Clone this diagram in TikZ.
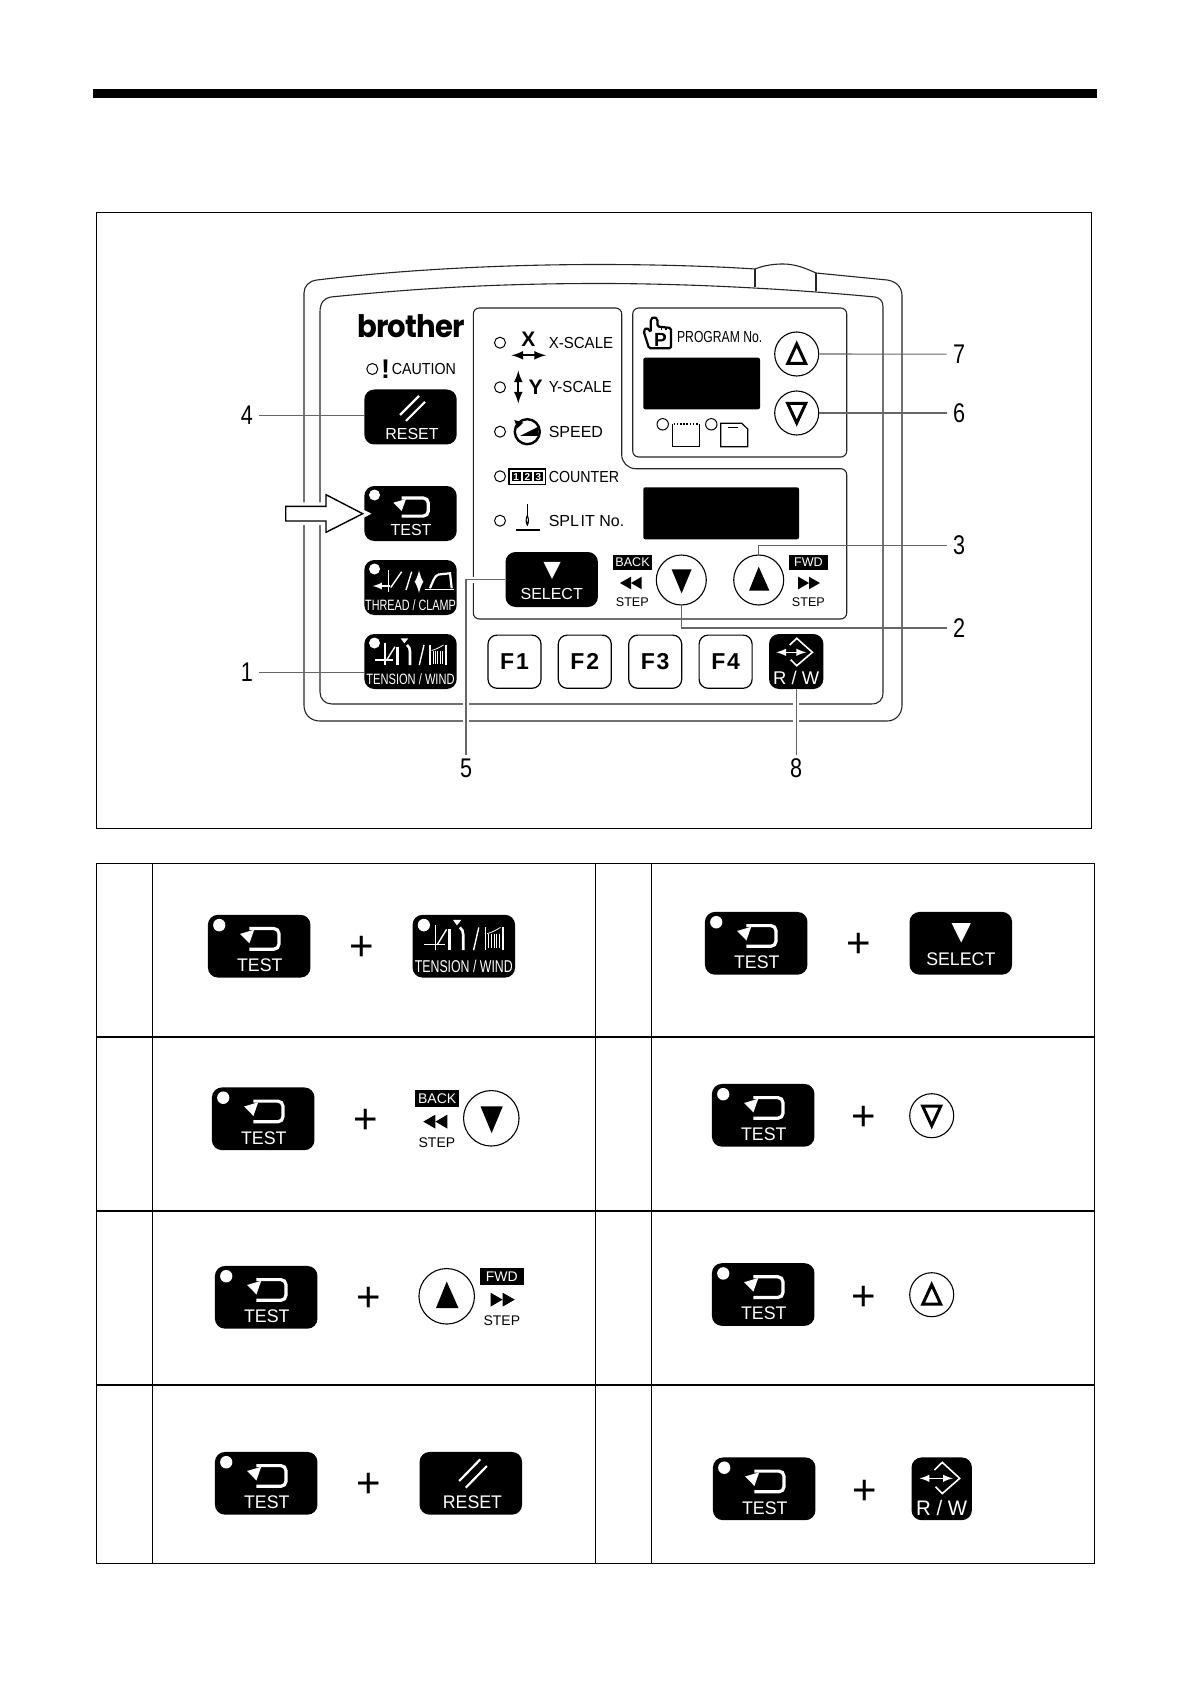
\documentclass[tikz,border=0pt]{standalone}
\usepackage{graphicx}
\usepackage{fontspec}
\setmainfont{Liberation Sans}
\newfontfamily\logofont{Poppins}[LetterSpace=-3]
\usepackage{tikz}
\usetikzlibrary{arrows}
\tikzset{>=latex}
\tikzset{
  caseline/.style={draw=black!85, line width=0.55pt},
  rule/.style={draw=black, line width=0.65pt},
  leader/.style={draw=black!60, line width=0.55pt},
  leaderhalo/.style={leader, preaction={draw=white, line width=3pt}},
  keybox/.style={fill=black, rounded corners=5pt, minimum width=46.2pt, minimum height=27.5pt, inner sep=0pt},
  rwbox/.style={keybox, minimum width=27.2pt},
  fkey/.style={draw=black, line width=0.6pt, fill=white, rounded corners=4.5pt, minimum width=26.5pt, minimum height=26.6pt, inner sep=0pt, font=\fontsize{11.5}{11.5}\selectfont\bfseries},
  keytext/.style={text=white, inner sep=0pt, font=\fontsize{8}{8}\selectfont},
  paneltext/.style={text=black, inner sep=0pt, anchor=west, font=\fontsize{8}{8}\selectfont},
  steptext/.style={inner sep=0pt, font=\fontsize{6.3}{6.3}\selectfont},
  stepbox/.style={fill=black, text=white, inner sep=0pt, minimum width=19.8pt, minimum height=7.7pt, font=\fontsize{6.3}{6.3}\selectfont},
  num/.style={inner xsep=3pt, inner ysep=1.8pt, font=\fontsize{13.5}{13.5}\selectfont},
  plussign/.style={inner sep=0pt, yshift=-1pt, font=\fontsize{21}{21}\selectfont},
  keycircle/.style={circle, draw=black, line width=0.55pt, fill=white, inner sep=0pt},
  led/.style={draw=black, line width=0.5pt, fill=white},
  white icon/.style={draw=white, line width=0.6pt},
  cntbox/.style={fill=black, text=white, minimum size=4.6pt, inner sep=0pt, font=\fontsize{5}{5}\selectfont\bfseries},
  panelkey/.style={scale=1},
  tablekey/.style={xscale=1.11, yscale=1.14},
  tableround/.style={scale=1.11},
}
\newcommand{\cond}[2]{\scalebox{#1}[1]{#2}}
\newcommand{\keyLed}{\fill[white] (-36,-18.5) circle (5.5);}
\newcommand{\keyReset}[4]{
  \begin{scope}[shift={(#2,#3)},#4,transform shape]
  \node[keybox] (#1) at (0,0) {};
  \draw[white icon, line width=1.1pt] (-10.5,-2) -- (8.5,-21);
  \draw[white icon, line width=1.1pt] (-4.5,3.8) -- (14.5,-15.2);
  \node[keytext] (#1txt) at (1.5,16.5) {RESET};
  \end{scope}
}
\newcommand{\keyTest}[4]{
  \begin{scope}[shift={(#2,#3)},#4,transform shape]
  \node[keybox] (#1) at (0,0) {};
  \keyLed
  \draw[white icon, line width=1.6pt, rounded corners=2.5pt] (-8.8,-15.5) -- (17.8,-15.5) -- (17.8,2.6) -- (-8.8,2.6);
  \fill[white] (-17.2,-10.8) -- (-4.5,-14.5) -- (-8.8,-2.5) -- cycle;
  \node[keytext] (#1txt) at (0.5,16.6) {TEST};
  \end{scope}
}
\newcommand{\keyTension}[4]{
  \begin{scope}[shift={(#2,#3)},#4,transform shape]
  \node[keybox] (#1) at (0,0) {};
  \keyLed
  \draw[white icon, line width=0.7pt] (-25.5,-18.2) -- (-25.5,3.5);
  \draw[white icon, line width=0.7pt] (-35.5,-1.5) -- (-17.2,-1.5);
  \draw[white icon, line width=0.7pt] (-23.8,-1.5) -- (-15.5,-14.8);
  \draw[white icon, line width=1.3pt] (-12.8,-14.8) -- (-12.8,3.5);
  \draw[white icon, line width=1.3pt] (-0.5,3.5) -- (-0.5,-10) .. controls (-0.5,-13) and (-1.5,-15) .. (-3.5,-16.5);
  \fill[white] (-9.8,-23.2) -- (-2.2,-23.2) -- (-6.2,-18.2) -- cycle;
  \draw[white icon, line width=0.7pt] (8.8,3.5) -- (13.5,-16.5);
  \draw[white icon, line width=0.8pt] (19.5,-16.5) -- (19.5,3.5);
  \draw[white icon, line width=0.8pt] (35.2,-16.5) -- (35.2,3.5);
  \foreach \hx in {22.4,24.8,27.2,29.6,32} {
    \draw[white icon, line width=0.4pt] (\hx,-11) -- (\hx,2);
  }
  \draw[white icon, line width=0.4pt] (21,-11) .. controls (25,-12) and (29,-14) .. (33,-16.5);
  \node[keytext] (#1txt) at (0,17.7) {\fontsize{7.5}{7.5}\selectfont\cond{0.74}{TENSION / WIND}};
  \end{scope}
}
\newcommand{\keySelect}[4]{
  \begin{scope}[shift={(#2,#3)},#4,transform shape]
  \node[keybox] (#1) at (0,0) {};
  \fill[white] (-8.3,-17.7) -- (9,-17.7) -- (0.3,-0.7) -- cycle;
  \node[keytext] (#1txt) at (0,14.3) {SELECT};
  \end{scope}
}
\newcommand{\keyRW}[4]{
  \begin{scope}[shift={(#2,#3)},#4,transform shape]
  \node[rwbox] (#1) at (0,0) {};
  \draw[white icon, line width=0.8pt] (-6.5,-16.5) -- (0.5,-23.2) -- (16.2,-9.2) -- (0.5,4.2) -- (-5.5,-1.8);
  \draw[white icon, line width=0.7pt, <->] (-20,-9.2) -- (10,-9.2);
  \node[keytext] (#1txt) at (0,16.8) {\fontsize{9.2}{9.2}\selectfont R / W};
  \end{scope}
}
\newcommand{\keyBack}[4]{
  \begin{scope}[shift={(#2,#3)},#4,transform shape]
  \node[keycircle, minimum size=25pt] (#1) at (0,0) {};
  \fill (-9.7,-10.7) -- (10.3,-10.7) -- (0.3,13.3) -- cycle;
  \node[stepbox] (#1box) at (-48.8,-17.7) {BACK};
  \fill (-61.3,3) -- (-50.3,-3.3) -- (-50.3,9.3) -- cycle;
  \fill (-50.3,3) -- (-39.6,-3.3) -- (-39.6,9.3) -- cycle;
  \node[steptext] (#1txt) at (-49,21.7) {STEP};
  \end{scope}
}
\newcommand{\keyFwd}[4]{
  \begin{scope}[shift={(#2,#3)},#4,transform shape]
  \node[keycircle, minimum size=25pt] (#1) at (0,0) {};
  \fill (-9.7,10.7) -- (10.7,10.7) -- (0,-13.3) -- cycle;
  \node[stepbox] (#1box) at (49.7,-17.7) {FWD};
  \fill (39.5,-3.3) -- (50.3,3) -- (39.5,9.3) -- cycle;
  \fill (50.3,-3.3) -- (61.3,3) -- (50.3,9.3) -- cycle;
  \node[steptext] (#1txt) at (49.7,21.7) {STEP};
  \end{scope}
}
% #4 is 1 for the up key, -1 for the down key
\newcommand{\keyOpen}[4]{
  \begin{scope}[shift={(#2,#3)}]
  \node[keycircle, minimum size=22pt] (#1) at (0,0) {};
  \draw[line width=1.5pt, miter limit=3] (-9,9.5*#4) -- (9,9.5*#4) -- (0,-10*#4) -- cycle;
  \end{scope}
}

\begin{document}
\begin{tikzpicture}[x=0.5pt,y=-0.5pt]
  \useasboundingbox (0,0) rectangle (1190,1684);
  \fill[white] (0,0) rectangle (1190,1684);
  \fill (93,89) rectangle (1096.6,97.7);
  \draw[rule] (96.5,212.3) rectangle (1091.2,828.5);

  % case of the panel
  \draw[caseline] (304,293) .. controls (304,286) and (309,281) .. (317,280) .. controls (400,270) and (500,264.5) .. (600,264.5) .. controls (650,264.5) and (710,266) .. (755,269) .. controls (765,265) and (775,264) .. (783,264) .. controls (795,264) and (805,268) .. (816,273) -- (887,280) .. controls (895,281) and (902,286) .. (902,296) -- (902,705) .. controls (902,715) and (895,721) .. (887,721) -- (320,721) .. controls (310,721) and (304,714) .. (304,705) -- cycle;
  \draw[caseline] (320,312) .. controls (320,303) and (324,298) .. (331,297) .. controls (420,288) and (500,283.5) .. (600,283.5) .. controls (680,283.5) and (780,288) .. (875,297) .. controls (880,298) and (883,301) .. (883,307) -- (883,692) .. controls (883,700) and (879,704) .. (871,704) -- (332,704) .. controls (325,704) and (320,699) .. (320,692) -- cycle;
  \draw[caseline] (755,269) -- (755,287);
  \draw[caseline] (816,273) -- (816,291);
  \draw[caseline, rounded corners=3pt] (473.3,619) -- (473.3,308) -- (621.7,308) -- (621.7,440) [rounded corners=7pt] -- (621.7,468.7) -- (700,468.7) [rounded corners=3pt] -- (846.7,468.7) -- (846.7,619) -- cycle;
  \draw[caseline, rounded corners=3pt] (632.7,308) rectangle (846.7,457);
  \fill[rounded corners=1pt] (643.3,357.7) rectangle (760,409.3);
  \fill[rounded corners=1pt] (643.3,487.3) rectangle (799,539.3);

  % left column
  \node[inner sep=0pt, font=\fontsize{15.5}{15.5}\logofont\bfseries] (logo) at (411,326) {\cond{0.94}{brother}};
  \draw[led] (372.3,369) circle (5.5);
  \node[inner sep=0pt, font=\fontsize{13.5}{13.5}\selectfont\bfseries] (bang) at (385.7,369) {!};
  \node[paneltext] (caution) at (391.5,369) {\cond{0.89}{CAUTION}};
  \keyReset{resetKey}{410.5}{417}{panelkey}
  \keyTest{testKey}{410.5}{513.5}{panelkey}
  \keyTension{tensionKey}{410.5}{661.5}{panelkey}
  \begin{scope}[shift={(410.5,587.5)}]
  \node[keybox] (threadKey) at (0,0) {};
  \keyLed
  \draw[white icon, line width=0.7pt] (-22.2,-17.5) -- (-22.2,4.2);
  \draw[white icon, line width=0.6pt, ->] (-20.5,-1.5) -- (-37.8,-1.5);
  \draw[white icon, line width=0.7pt] (-19.8,0) -- (-8.8,-15.8);
  \draw[white icon, line width=0.7pt] (-4.5,2.5) -- (1.2,-15.8);
  \draw[white icon, line width=1pt, <->] (8.5,-17) -- (8.5,5.5);
  \draw[white icon, line width=0.8pt] (14.5,1.8) -- (43.5,1.8);
  \draw[white icon, line width=1.1pt] (19.5,0.8) .. controls (22,-5) and (24,-12) .. (28,-13) -- (39.5,-14.2) -- (41.2,0.8);
  \node[keytext] (threadKeytxt) at (0,17.5) {\fontsize{7.5}{7.5}\selectfont\cond{0.72}{THREAD / CLAMP}};
  \end{scope}

  % arrow to the test key
  \draw[draw=black, line width=0.7pt, fill=white, preaction={draw=white, line width=4pt}] (285.7,506.3) -- (326,506.3) -- (326,494.7) -- (362.7,513.7) -- (326,532.3) -- (326,521) -- (285.7,521) -- cycle;

  % indicator column
  \draw[led] (500,342.7) circle (5.5);
  \draw[led] (500,387.3) circle (5.5);
  \draw[led] (500,431.7) circle (5.5);
  \draw[led] (500,476.3) circle (5.5);
  \draw[led] (500,520.7) circle (5.5);
  \node[inner sep=0pt, font=\fontsize{10.5}{10.5}\selectfont\bfseries] (xmark) at (528.3,339.3) {X};
  \draw[<->, line width=1pt] (511.5,355.3) -- (546,355.3);
  \draw[<->, line width=1pt] (518.3,370.5) -- (518.3,403.5);
  \node[inner sep=0pt, font=\fontsize{10.5}{10.5}\selectfont\bfseries] (ymark) at (535.7,387.7) {Y};
  \draw[line width=1.2pt] (527.3,431.7) circle (12.5);
  \fill (520,436) -- (538.3,426.7) -- (538.3,436) -- cycle;
  \fill (514.3,420) -- (523.3,422.7) -- (517.3,428.3) -- cycle;
  \node[draw=black, line width=0.6pt, minimum width=18.3pt, minimum height=7.7pt, inner sep=0pt] (countbox) at (527.3,476.7) {};
  \node[cntbox] (cntA) at (516.2,476.7) {1};
  \node[cntbox] (cntB) at (527.3,476.7) {2};
  \node[cntbox] (cntC) at (538.4,476.7) {3};
  \draw[line width=0.6pt] (527.3,504) -- (527.3,526);
  \fill (527.3,514) .. controls (525,519) and (525,523) .. (527.3,526) .. controls (529.6,523) and (529.6,519) .. (527.3,514) -- cycle;
  \fill[white] (527.3,517.5) .. controls (526.5,519) and (526.5,521) .. (527.3,522) .. controls (528.1,521) and (528.1,519) .. (527.3,517.5) -- cycle;
  \draw[line width=0.8pt] (516,530) -- (540,530);
  \node[paneltext] (xscale) at (548.4,342.7) {\cond{0.94}{X-SCALE}};
  \node[paneltext] (yscale) at (548.4,387.3) {\cond{0.94}{Y-SCALE}};
  \node[paneltext] (speed) at (548.4,431.7) {SPEED};
  \node[paneltext] (counter) at (548.4,476.7) {\cond{0.89}{COUNTER}};
  \node[paneltext] (split) at (548.4,520.7) {SPL\kern0.8pt IT No.};

  % program block
  \draw[line width=1.1pt, fill=white, rounded corners=0.8pt] (649,348.3) -- (643.6,331) -- (646.5,327.5) -- (650.8,332) -- (650.8,319) -- (654,316.8) -- (657.5,319) -- (657.5,326.5) -- (671,328) -- (671,348.3) -- cycle;
  \draw[line width=0.6pt] (661.5,326.8) -- (661.5,330);
  \draw[line width=0.6pt] (666,327.3) -- (666,330);
  \node[inner sep=0pt, font=\fontsize{9.5}{9.5}\selectfont\bfseries] (handP) at (660.5,339.5) {P};
  \node[paneltext] (program) at (676.7,336.7) {\cond{0.76}{PROGRAM No.}};
  \draw[led] (662.7,424.3) circle (5.7);
  \draw[led] (711.3,424.3) circle (5.7);
  \draw[line width=0.6pt] (672.3,424) -- (672.3,446.7) -- (699.3,446.7) -- (699.3,424);
  \draw[line width=1pt, dash pattern=on 0.8pt off 0.8pt] (673.5,424) -- (698,424);
  \draw[line width=0.6pt] (720.7,423.3) -- (741.7,423.3) -- (747.7,429) -- (747.7,446.7) -- (720.7,446.7) -- cycle;
  \draw[line width=0.5pt] (728.3,427.5) -- (738.3,427.5);
  \keyOpen{upKey}{796.7}{354}{1}
  \keyOpen{downKey}{796.7}{413}{-1}

  % bottom keys
  \keySelect{selectKey}{551.7}{579.5}{panelkey}
  \keyBack{backKey}{681.3}{580}{panelkey}
  \keyFwd{fwdKey}{758.7}{580}{panelkey}
  \node[fkey] (fOne) at (514.5,661.7) {F\kern0.9pt 1};
  \node[fkey] (fTwo) at (584.8,661.7) {F\kern0.9pt 2};
  \node[fkey] (fThree) at (655.2,661.7) {F\kern0.9pt 3};
  \node[fkey] (fFour) at (725.6,661.7) {F\kern0.9pt 4};
  \keyRW{rwKey}{796.2}{661.5}{panelkey}

  % callouts
  \node[num] (n1) at (247,672.5) {\cond{0.8}{1}};
  \node[num] (n2) at (959,628) {\cond{0.8}{2}};
  \node[num] (n3) at (959,545.2) {\cond{0.8}{3}};
  \node[num] (n4) at (247,415.2) {\cond{0.8}{4}};
  \node[num] (n5) at (466,768.3) {\cond{0.8}{5}};
  \node[num] (n6) at (959,413) {\cond{0.8}{6}};
  \node[num] (n7) at (959,354.2) {\cond{0.8}{7}};
  \node[num] (n8) at (796.2,768.3) {\cond{0.8}{8}};
  \draw[leader] (n1.east) -- (tensionKey.west |- n1.east);
  \draw[leader] (n4.east) -- (resetKey.west |- n4.east);
  \draw[leader] (backKey.south) |- (n2.west);
  \draw[leader] (fwdKey.north) |- (n3.west);
  \draw[leaderhalo] (selectKey.west) -| (n5.north);
  \draw[leader] (downKey.east) -- (n6.west);
  \draw[leader] (upKey.east) -- (n7.west);
  \draw[leaderhalo] (rwKey.south) -- (n8.north);

  % table
  \draw[rule] (96.5,863.3) rectangle (1094.3,1563.3);
  \draw[rule] (96.5,1037) -- (1094.3,1037);
  \draw[rule] (96.5,1211) -- (1094.3,1211);
  \draw[rule] (96.5,1385) -- (1094.3,1385);
  \draw[rule] (152.3,863.3) -- (152.3,1563.3);
  \draw[rule] (595.3,863.3) -- (595.3,1563.3);
  \draw[rule] (651.5,863.3) -- (651.5,1563.3);

  \keyTest{testA}{259.2}{946.2}{tablekey}
  \node[plussign] (plusA) at (361.7,946.7) {+};
  \keyTension{tensionB}{463.8}{946.2}{tablekey}
  \keyTest{testB}{263.2}{1118.8}{tablekey}
  \node[plussign] (plusB) at (365.3,1119.3) {+};
  \keyBack{backB}{491.3}{1118.3}{tableround}
  \keyTest{testC}{266.2}{1297.3}{tablekey}
  \node[plussign] (plusC) at (368.3,1297.7) {+};
  \keyFwd{fwdC}{446.7}{1296.3}{tableround}
  \keyTest{testD}{266.2}{1483.3}{tablekey}
  \node[plussign] (plusD) at (368.3,1483.3) {+};
  \keyReset{resetD}{470.8}{1483.3}{tablekey}
  \keyTest{testE}{756.2}{943.3}{tablekey}
  \node[plussign] (plusE) at (858.7,943.7) {+};
  \keySelect{selectE}{960.8}{943.3}{tablekey}
  \keyTest{testF}{763.2}{1115.3}{tablekey}
  \node[plussign] (plusF) at (864,1116.7) {+};
  \keyOpen{downF}{931.7}{1115.7}{-1}
  \keyTest{testG}{763.2}{1294.5}{tablekey}
  \node[plussign] (plusG) at (864,1296) {+};
  \keyOpen{upG}{931.7}{1294.7}{1}
  \keyTest{testH}{764.2}{1488.8}{tablekey}
  \node[plussign] (plusH) at (864.7,1490.7) {+};
  \keyRW{rwH}{941.7}{1488.8}{tablekey}
\end{tikzpicture}
\end{document}
